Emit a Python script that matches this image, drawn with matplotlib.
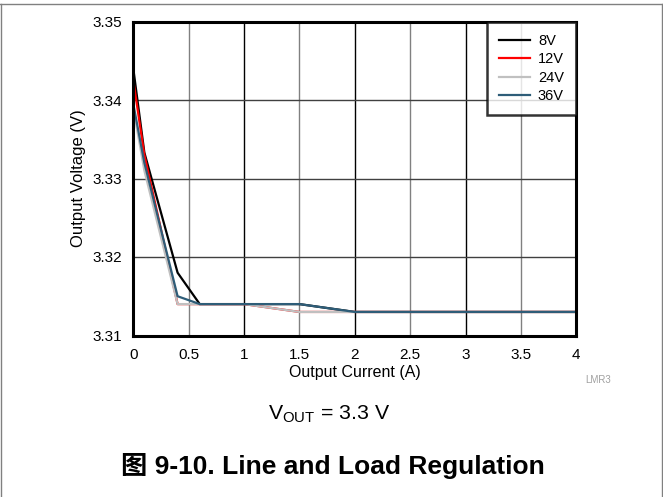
import matplotlib
matplotlib.use("Agg")
import matplotlib.pyplot as plt
from matplotlib.lines import Line2D

plt.rcParams['font.family'] = ['Liberation Sans', 'Noto Sans CJK SC', 'DejaVu Sans']
plt.rcParams['mathtext.fontset'] = 'custom'
plt.rcParams['mathtext.rm'] = 'Liberation Sans'

# Data
x_8v = [0.0, 0.1, 0.4, 0.6, 1.0, 1.5, 2.0, 4.0]
y_8v = [3.3440, 3.3333, 3.3180, 3.3140, 3.3140, 3.3140, 3.3130, 3.3130]
x_12v = [0.0, 0.1, 0.4, 0.6, 1.0, 1.5, 2.0, 4.0]
y_12v = [3.3425, 3.3330, 3.3140, 3.3140, 3.3140, 3.3130, 3.3130, 3.3130]
x_24v = [0.0, 0.1, 0.4, 0.6, 1.0, 1.5, 2.0, 4.0]
y_24v = [3.3390, 3.3310, 3.3140, 3.3140, 3.3140, 3.3130, 3.3130, 3.3130]
x_36v = [0.0, 0.1, 0.4, 0.6, 1.0, 1.5, 2.0, 4.0]
y_36v = [3.3395, 3.3320, 3.3150, 3.3140, 3.3140, 3.3140, 3.3130, 3.3130]

x_ticks = [0, 0.5, 1, 1.5, 2, 2.5, 3, 3.5, 4]
x_ticklabels = ['0', '0.5', '1', '1.5', '2', '2.5', '3', '3.5', '4']
y_ticks = [3.31, 3.32, 3.33, 3.34, 3.35]
y_ticklabels = ['3.31', '3.32', '3.33', '3.34', '3.35']

fig = plt.figure(figsize=(6.63, 4.97), dpi=100)
ax = fig.add_axes([133.3/663, 1-335.5/497, 443/663, 314/497])

# grid
for xv in x_ticks[1:-1]:
    c = 'black' if float(xv).is_integer() else '#808080'
    ax.axvline(xv, color=c, lw=1.0, zorder=1)
for yv in y_ticks[1:-1]:
    ax.axhline(yv, color='#404040', lw=1.0, zorder=1)

ax.plot(x_8v, y_8v, color='black', lw=1.6, label='8V', zorder=3)
ax.plot(x_12v, y_12v, color='#ff0000', lw=1.6, label='12V', zorder=3)
ax.plot(x_24v, y_24v, color='#c0c0c0', lw=1.6, label='24V', zorder=3)
ax.plot(x_36v, y_36v, color='#2e5d78', lw=1.6, label='36V', zorder=3)

ax.set_xlim(0, 4)
ax.set_ylim(3.31, 3.35)
ax.set_xticks(x_ticks)
ax.set_xticklabels(x_ticklabels)
ax.set_yticks(y_ticks)
ax.set_yticklabels(y_ticklabels)
ax.tick_params(length=0, labelsize=11, pad=8)
ax.tick_params(axis='x', pad=9)
for s in ax.spines.values():
    s.set_linewidth(2.2)
    s.set_color('black')
    s.set_zorder(5)

ax.set_xlabel('Output Current (A)', fontsize=11.5, labelpad=2)
ax.set_ylabel('Output Voltage (V)', fontsize=12, labelpad=5)

leg = ax.legend(loc='upper right', fontsize=10.5, frameon=True, fancybox=False,
                borderaxespad=0, handlelength=2.1, handletextpad=0.55,
                labelspacing=0.3, borderpad=0.85)
leg.get_frame().set_edgecolor('black')
leg.get_frame().set_linewidth(1.8)
leg.set_zorder(6)

fig.text(585/663, 1-380/497, 'LMR3', fontsize=7, color='#a0a0a0', ha='left', va='center')
fig.text(329/663, 1-419.5/497, r'V$_{\mathrm{OUT}}$ = 3.3 V', fontsize=15.3, ha='center', va='baseline')
fig.text(333/663, 1-474/497, '图 9-10. Line and Load Regulation', fontsize=19,
         fontweight='bold', ha='center', va='baseline',
         family=['Liberation Sans', 'Noto Sans CJK SC'])

# outer frame
fig.add_artist(Line2D([0, 1], [1-4/497, 1-4/497], transform=fig.transFigure, color='#808080', lw=1))
fig.add_artist(Line2D([1/663, 1/663], [0, 1-4/497], transform=fig.transFigure, color='#808080', lw=1))
fig.add_artist(Line2D([661.5/663, 661.5/663], [0, 1-4/497], transform=fig.transFigure, color='#808080', lw=1))

fig.savefig('out.png', dpi=100)
